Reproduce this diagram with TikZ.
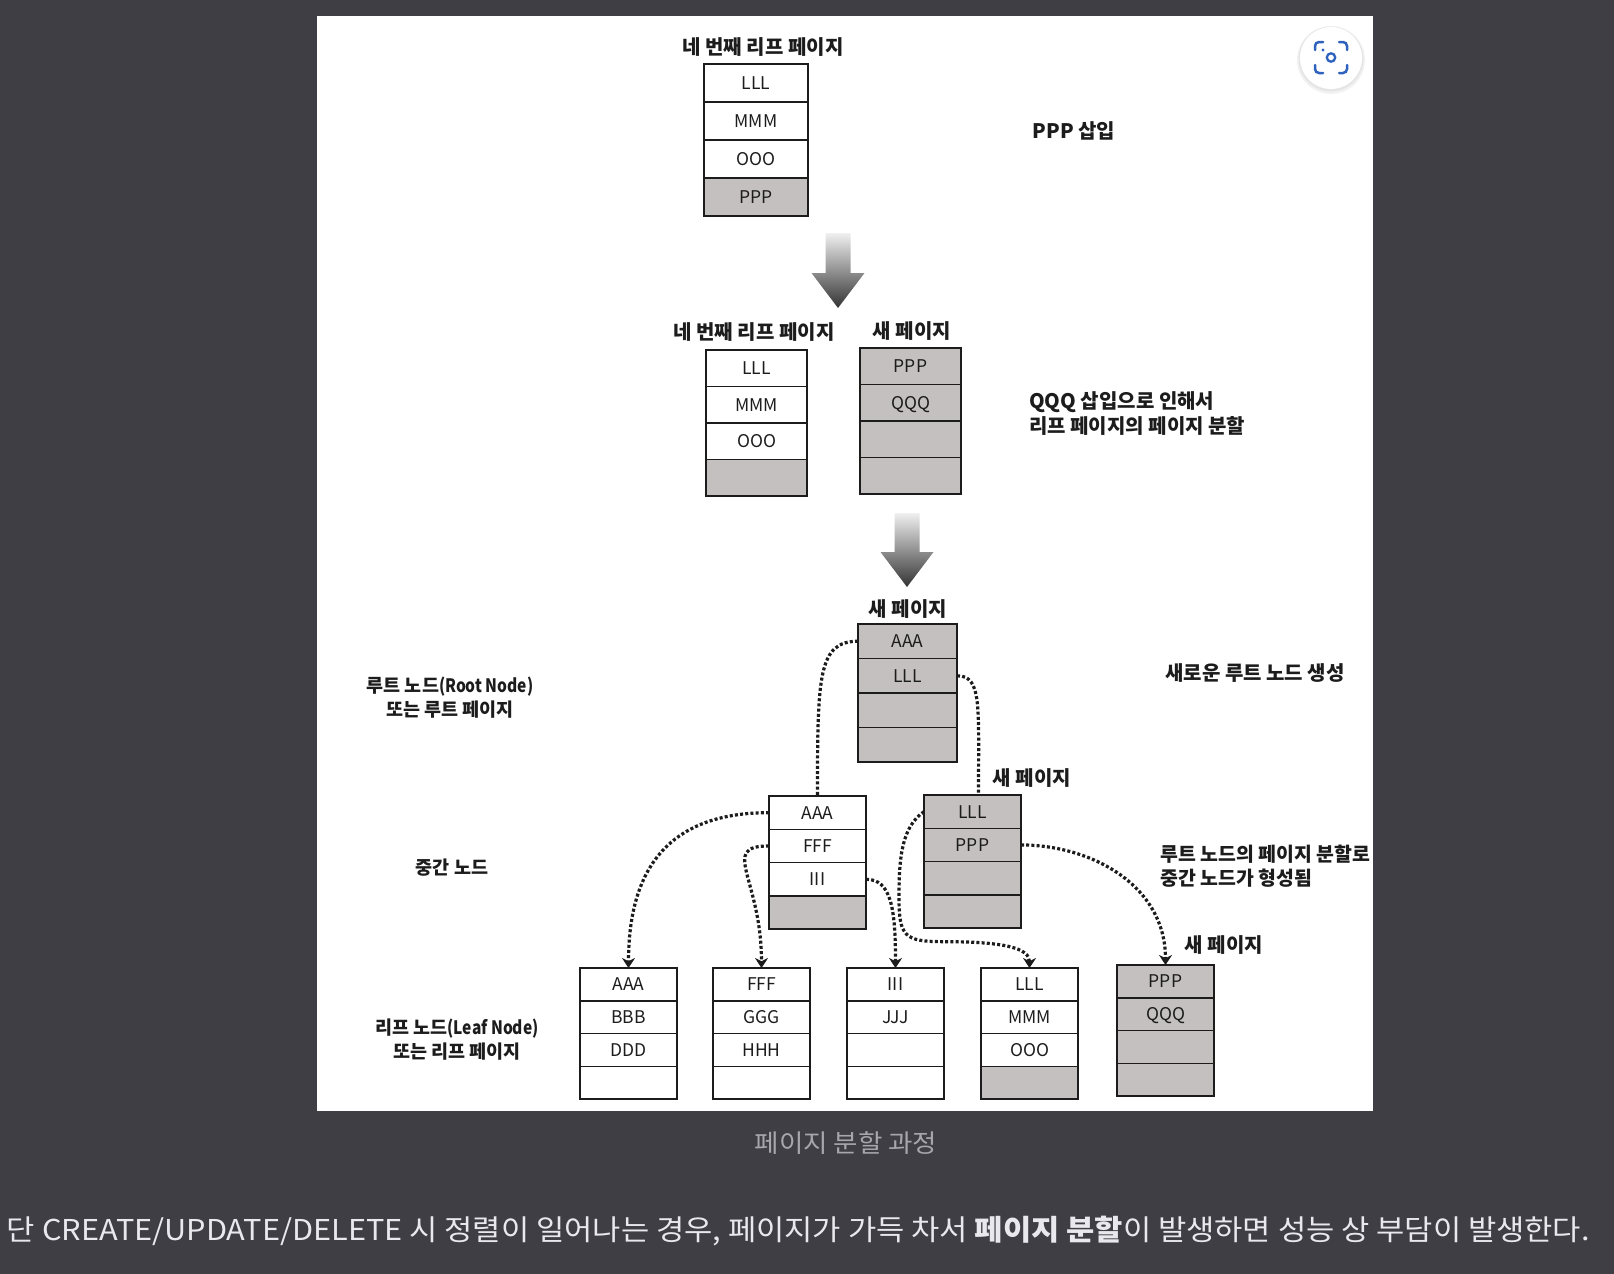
\documentclass[tikz,border=0pt]{standalone}
\usepackage{fontspec}
\setmainfont{Noto Sans CJK KR}
\usepackage{tikz}
\usetikzlibrary{positioning,calc,arrows.meta}
\definecolor{bgdark}{HTML}{3F3E45}
\definecolor{ink}{HTML}{1C1C1C}
\definecolor{pagegray}{HTML}{C4C0BF}
\definecolor{capgray}{HTML}{A6A6AC}
\definecolor{bodytext}{HTML}{E9E9ED}
\definecolor{iconblue}{HTML}{2E62BE}
\tikzset{
  cell/.style={draw=ink, line width=1.4pt, inner sep=0pt, outer sep=0pt,
    minimum width=97pt, minimum height=32.8pt, text height=13pt, text depth=0pt,
    font=\fontsize{17.5}{17.5}\selectfont, text=ink},
  full/.style={cell, fill=pagegray},
  free/.style={cell, fill=white},
  tallrow/.style={minimum width=104pt, minimum height=38pt},
  midrow/.style={minimum width=101pt, minimum height=36.5pt},
  rootrow/.style={minimum width=99pt, minimum height=34.5pt},
  introw/.style={minimum width=97pt, minimum height=33.3pt},
  frame/.style={draw=ink, line width=2.2pt},
  tie/.style={draw=ink, line width=3.2pt, dash pattern=on 3pt off 2.2pt},
  link/.style={tie, -{Stealth[length=10pt,width=13pt]}},
  lab/.style={text=ink, inner sep=0pt, font=\fontsize{20}{24.5}\selectfont\bfseries},
  sidelab/.style={lab, align=center, font=\fontsize{18.5}{24}\selectfont\bfseries},
  bigarrow/.style={top color=gray!12, bottom color=black!80, draw=none},
  iconline/.style={draw=iconblue, line width=2.5pt, line cap=round}
}

\begin{document}
\begin{tikzpicture}[x=1pt,y=-1pt]
  \useasboundingbox (0,0) rectangle (1614,1274);
  \fill[bgdark] (0,0) rectangle (1614,1274);
  \fill[white] (317,16) rectangle (1373,1111);

  % first leaf page, before the split
  \node[lab] (ttl1) at (763,47) {네 번째 리프 페이지};
  \node[free, tallrow, anchor=north west] (t1) at (704,64) {LLL};
  \node[free, tallrow, below=0pt of t1] (t2) {MMM};
  \node[free, tallrow, below=0pt of t2] (t3) {OOO};
  \node[full, tallrow, below=0pt of t3] (t4) {PPP};
  \draw[frame] (t1.north west) rectangle (t4.south east);
  \node[lab] (note1) at (1074,131) {PPP 삽입};

  \shade[bigarrow] (825.5,233) -- (850.5,233) -- (850.5,273) -- (864.5,273) -- (838,308) -- (811.5,273) -- (825.5,273) -- cycle;

  % split into two leaf pages
  \node[lab] (ttl2) at (754,332) {네 번째 리프 페이지};
  \node[lab] (ttl3) at (912,331) {새 페이지};
  \node[free, midrow, anchor=north west] (s1) at (706,350) {LLL};
  \node[free, midrow, below=0pt of s1] (s2) {MMM};
  \node[free, midrow, below=0pt of s2] (s3) {OOO};
  \node[full, midrow, below=0pt of s3] (s4) {};
  \draw[frame] (s1.north west) rectangle (s4.south east);
  \node[full, midrow, anchor=north west] (n1) at (860,348) {PPP};
  \node[full, midrow, below=0pt of n1] (n2) {QQQ};
  \node[full, midrow, below=0pt of n2] (n3) {};
  \node[full, midrow, below=0pt of n3] (n4) {};
  \draw[frame] (n1.north west) rectangle (n4.south east);
  \node[lab, anchor=west, align=left] (note2) at (1029,413.5) {QQQ 삽입으로 인해서\\리프 페이지의 페이지 분할};

  \shade[bigarrow] (894.5,513) -- (919.5,513) -- (919.5,552) -- (933.5,552) -- (907,587) -- (880.5,552) -- (894.5,552) -- cycle;

  % new root
  \node[lab] (ttl4) at (908,609) {새 페이지};
  \node[full, rootrow, anchor=north west] (r1) at (858,624) {AAA};
  \node[full, rootrow, below=0pt of r1] (r2) {LLL};
  \node[full, rootrow, below=0pt of r2] (r3) {};
  \node[full, rootrow, below=0pt of r3] (r4) {};
  \draw[frame] (r1.north west) rectangle (r4.south east);
  \node[lab] (note3) at (1255,673) {새로운 루트 노드 생성};
  \node[sidelab] (side1) at (450,698) {루트 노드{\addfontfeatures{FakeStretch=0.84}(Root Node)}\\또는 루트 페이지};

  % intermediate nodes
  \node[free, introw, anchor=north west] (i1) at (769,796) {AAA};
  \node[free, introw, below=0pt of i1] (i2) {FFF};
  \node[free, introw, below=0pt of i2] (i3) {III};
  \node[full, introw, below=0pt of i3] (i4) {};
  \draw[frame] (i1.north west) rectangle (i4.south east);
  \node[lab] (ttl5) at (1032,778) {새 페이지};
  \node[full, introw, anchor=north west] (j1) at (924,795) {LLL};
  \node[full, introw, below=0pt of j1] (j2) {PPP};
  \node[full, introw, below=0pt of j2] (j3) {};
  \node[full, introw, below=0pt of j3] (j4) {};
  \draw[frame] (j1.north west) rectangle (j4.south east);
  \node[sidelab] (side2) at (452,868) {중간 노드};
  \node[lab, anchor=west, align=left, font=\fontsize{19.4}{24.5}\selectfont\bfseries] (note4) at (1160,866) {루트 노드의 페이지 분할로\\중간 노드가 형성됨};

  % leaves
  \node[free, anchor=north west] (la1) at (580,968) {AAA};
  \node[free, below=0pt of la1] (la2) {BBB};
  \node[free, below=0pt of la2] (la3) {DDD};
  \node[free, below=0pt of la3] (la4) {};
  \draw[frame] (la1.north west) rectangle (la4.south east);
  \node[free, anchor=north west] (lb1) at (713,968) {FFF};
  \node[free, below=0pt of lb1] (lb2) {GGG};
  \node[free, below=0pt of lb2] (lb3) {HHH};
  \node[free, below=0pt of lb3] (lb4) {};
  \draw[frame] (lb1.north west) rectangle (lb4.south east);
  \node[free, anchor=north west] (lc1) at (847,968) {III};
  \node[free, below=0pt of lc1] (lc2) {JJJ};
  \node[free, below=0pt of lc2] (lc3) {};
  \node[free, below=0pt of lc3] (lc4) {};
  \draw[frame] (lc1.north west) rectangle (lc4.south east);
  \node[free, anchor=north west] (ld1) at (981,968) {LLL};
  \node[free, below=0pt of ld1] (ld2) {MMM};
  \node[free, below=0pt of ld2] (ld3) {OOO};
  \node[full, below=0pt of ld3] (ld4) {};
  \draw[frame] (ld1.north west) rectangle (ld4.south east);
  \node[lab] (ttl6) at (1224,945) {새 페이지};
  \node[full, anchor=north west] (le1) at (1117,965) {PPP};
  \node[full, below=0pt of le1] (le2) {QQQ};
  \node[full, below=0pt of le2] (le3) {};
  \node[full, below=0pt of le3] (le4) {};
  \draw[frame] (le1.north west) rectangle (le4.south east);
  \node[sidelab] (side3) at (457,1039.5) {리프 노드{\addfontfeatures{FakeStretch=0.84}(Leaf Node)}\\또는 리프 페이지};

  % pointers
  \draw[tie] (r1.west) .. controls +(-40,0) and +(0,-120) .. (i1.north);
  \draw[tie] (r2.east) .. controls +(25,0) and +(0,-90) .. ([xshift=6pt]j1.north);
  \draw[link] (i1.west) .. controls +(-100,0) and +(0,-100) .. (la1.north);
  \draw[link] (i2.west) .. controls +(-50,0) and +(0,-90) .. (lb1.north);
  \draw[link] (i3.east) .. controls +(25,0) and +(0,-60) .. (lc1.north);
  \draw[link] (j1.west) .. controls +(-22,15) and +(0,-40) .. ++(-25,85)
    .. controls +(0,40) and +(-40,0) .. ++(45,45)
    .. controls +(60,0) and +(0,-20) .. (ld1.north);
  \draw[link] (j2.east) .. controls +(70,0) and +(0,-80) .. (le1.north);

  % zoom button
  \fill[black, opacity=0.05] (1331,60) circle[radius=34pt];
  \fill[black, opacity=0.05] (1331,59) circle[radius=32.5pt];
  \fill[white] (1331,58) circle[radius=31pt];
  \draw[iconline, rounded corners=4pt] (1315,50) -- (1315,42) -- (1323,42);
  \draw[iconline, rounded corners=4pt] (1339,42) -- (1347,42) -- (1347,50);
  \draw[iconline, rounded corners=4pt] (1347,65) -- (1347,73) -- (1339,73);
  \draw[iconline, rounded corners=4pt] (1323,73) -- (1315,73) -- (1315,65);
  \draw[iconblue, line width=2.3pt] (1331,57.5) circle[radius=4.2pt];
  \fill[iconblue] (1323,50) circle[radius=1.7pt];

  \node[text=capgray, inner sep=0pt, font=\fontsize{25}{25}\selectfont\addfontfeatures{FakeStretch=1.06}] (cap) at (846,1143) {페이지 분할 과정};
  \node[text=bodytext, inner sep=0pt, anchor=east, font=\fontsize{28.7}{28.7}\selectfont\addfontfeatures{FakeStretch=1.07}] (body) at (1590,1231)
    {단 CREATE/UPDATE/DELETE 시 정렬이 일어나는 경우, 페이지가 가득 차서 \textbf{페이지 분할}이 발생하면 성능 상 부담이 발생한다.};
\end{tikzpicture}
\end{document}
